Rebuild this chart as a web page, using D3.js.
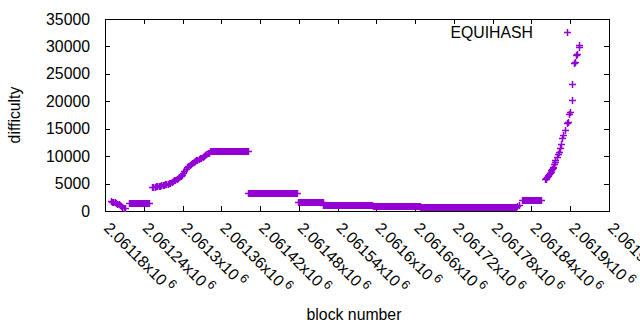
<!DOCTYPE html>
<html>
<head>
<meta charset="utf-8">
<script src="https://cdn.jsdelivr.net/npm/d3@7"></script>
<style>
	body { margin: 0; background: #fff; }
	svg text { font-family: "Liberation Sans", Arial, sans-serif; font-size: 15.8px; fill: #000; }
</style>
</head>
<body>
<svg id="chart" width="640" height="330"></svg>
<script>
	// ---- data (block numbers are offsets from blockBase) ----
	var blockBase = 2061180;

	// flat stretches where the difficulty stays put
	var plateauFrom = [37, 163, 222, 298, 338, 414, 488, 566, 646];
	var plateauTo = [68, 221, 297, 337, 413, 487, 565, 634, 675];
	var plateauDifficulty = [1400, 10850, 3250, 1600, 1100, 900, 780, 650, 2000];

	// single readings on the slopes
	var pointOffset = [
		9, 11, 13, 15, 17, 19, 21, 23, 25, 27, 29, 31,
		73, 75, 77, 79, 81, 83, 85, 87, 89, 91, 93, 95, 97, 99, 101, 103, 105, 107, 109, 111,
		113, 115, 117, 119, 121, 123, 125, 127, 129, 131, 133, 135, 137, 139, 141, 143, 145,
		147, 149, 151, 153, 155, 157, 159, 161,
		636, 638, 640,
		681, 682, 683, 684, 685, 686, 687, 688, 689, 690, 691, 692, 693, 694, 695, 696, 697,
		699, 701, 702, 704, 706, 708, 709, 712, 715, 716, 718, 719, 722, 723, 726, 727, 729,
		730, 733, 734
	];
	var pointDifficulty = [
		1750, 1700, 1650, 1550, 1450, 1350, 1200, 1050, 900, 750, 600, 500,
		4400, 4430, 4460, 4500, 4540, 4580, 4630, 4680, 4740, 4800, 4860, 4930, 5000, 5080, 5170, 5300, 5430, 5580, 5720, 5850,
		6000, 6180, 6400, 6650, 6950, 7300, 7700, 8000, 8250, 8450, 8650, 8800, 8950, 9100, 9250, 9380, 9500,
		9620, 9730, 9850, 10000, 10150, 10300, 10500, 10650,
		800, 1000, 1100,
		5830, 5900, 6000, 6150, 6300, 6550, 6700, 6850, 7000, 7150, 7400, 7650, 7850, 8100, 8500, 9000, 9300,
		9900, 10400, 10700, 11400, 12300, 13300, 13900, 14800, 16000, 16200, 17700, 18000, 20200, 23100, 26900, 27200, 28400,
		28700, 29900, 30200
	];

	var xTicks = [2061180, 2061240, 2061300, 2061360, 2061420, 2061480, 2061540,
		2061600, 2061660, 2061720, 2061780, 2061840, 2061900, 2061960];
	var xTickLabels = ['2.06118', '2.06124', '2.0613', '2.06136', '2.06142', '2.06148', '2.06154',
		'2.0616', '2.06166', '2.06172', '2.06178', '2.06184', '2.0619', '2.06196'];
	var yTicks = [0, 5000, 10000, 15000, 20000, 25000, 30000, 35000];

	var seriesName = 'EQUIHASH',
		colour = '#9400d3';

	(function () {
		// ---- build the point list ----
		var points = [], i, b;
		for (i = 0; i < plateauFrom.length; i++) {
			for (b = plateauFrom[i]; b <= plateauTo[i]; b++) {
				points.push({block: blockBase + b, difficulty: plateauDifficulty[i]});
			}
		}
		for (i = 0; i < pointOffset.length; i++) {
			points.push({block: blockBase + pointOffset[i], difficulty: pointDifficulty[i]});
		}

		// ---- chart ----
		var plotLeft = 105, plotRight = 609, plotTop = 19, plotBottom = 211,
			tick = 5, arm = 3.5;

		var svg = d3.select('#chart');

		var x = d3.scaleLinear()
			.domain([xTicks[0], xTicks[xTicks.length - 1]])
			.range([plotLeft, plotRight]);
		var y = d3.scaleLinear()
			.domain([0, 35000])
			.range([plotBottom, plotTop]);

		// axes with inward ticks on all four sides
		var gx = svg.append('g')
			.attr('transform', 'translate(0,' + plotBottom + ')')
			.call(d3.axisBottom(x).tickValues(xTicks).tickSize(-tick).tickFormat(''));
		svg.append('g')
			.attr('transform', 'translate(0,' + plotTop + ')')
			.call(d3.axisTop(x).tickValues(xTicks).tickSize(-tick).tickFormat(''));
		svg.append('g')
			.attr('transform', 'translate(' + plotLeft + ',0)')
			.call(d3.axisLeft(y).tickValues(yTicks).tickSize(-tick).tickPadding(15).tickFormat(d3.format('d')));
		svg.append('g')
			.attr('transform', 'translate(' + plotRight + ',0)')
			.call(d3.axisRight(y).tickValues(yTicks).tickSize(-tick).tickFormat(''));

		svg.selectAll('.domain').remove();
		svg.selectAll('g').attr('font-size', null).attr('font-family', null);
		svg.selectAll('.tick line').attr('stroke', '#000').attr('shape-rendering', 'crispEdges');

		svg.append('rect')
			.attr('x', plotLeft)
			.attr('y', plotTop)
			.attr('width', plotRight - plotLeft)
			.attr('height', plotBottom - plotTop)
			.attr('fill', 'none')
			.attr('stroke', '#000')
			.attr('shape-rendering', 'crispEdges');

		// rotated x labels like "2.06118x10^6"
		var labels = gx.selectAll('.xlabel')
			.data(xTicks).enter()
			.append('text')
				.attr('class', 'xlabel')
				.attr('transform', function (d) {
					return 'translate(' + (x(d) - 2) + ',18) rotate(45)';
				})
				.attr('text-anchor', 'start');
		labels.append('tspan')
			.text(function (d, i) {return xTickLabels[i] + 'x10';});
		labels.append('tspan')
			.attr('dx', 3)
			.attr('dy', -6)
			.style('font-size', '12.6px')
			.text('6');

		// plus marks
		var plus = function (px, py) {
			px = Math.round(px) + 0.5;
			py = Math.round(py) + 0.5;
			return 'M' + (px - arm) + ',' + py + 'h' + (2 * arm) +
				'M' + px + ',' + (py - arm) + 'v' + (2 * arm);
		};

		svg.append('path')
			.attr('d', points.map(function (d) {return plus(x(d.block), y(d.difficulty));}).join(''))
			.attr('fill', 'none')
			.attr('stroke', colour)
			.attr('stroke-width', 1.5);

		// key
		svg.append('text')
			.attr('x', 533)
			.attr('y', 37.5)
			.attr('text-anchor', 'end')
			.text(seriesName);
		svg.append('path')
			.attr('d', plus(567, 32))
			.attr('fill', 'none')
			.attr('stroke', colour)
			.attr('stroke-width', 1.5);

		// axis titles
		svg.append('text')
			.attr('transform', 'translate(20,' + ((plotTop + plotBottom) / 2) + ') rotate(-90)')
			.attr('text-anchor', 'middle')
			.text('difficulty');
		svg.append('text')
			.attr('x', 354)
			.attr('y', 320)
			.attr('text-anchor', 'middle')
			.text('block number');
	})();
</script>
</body>
</html>
